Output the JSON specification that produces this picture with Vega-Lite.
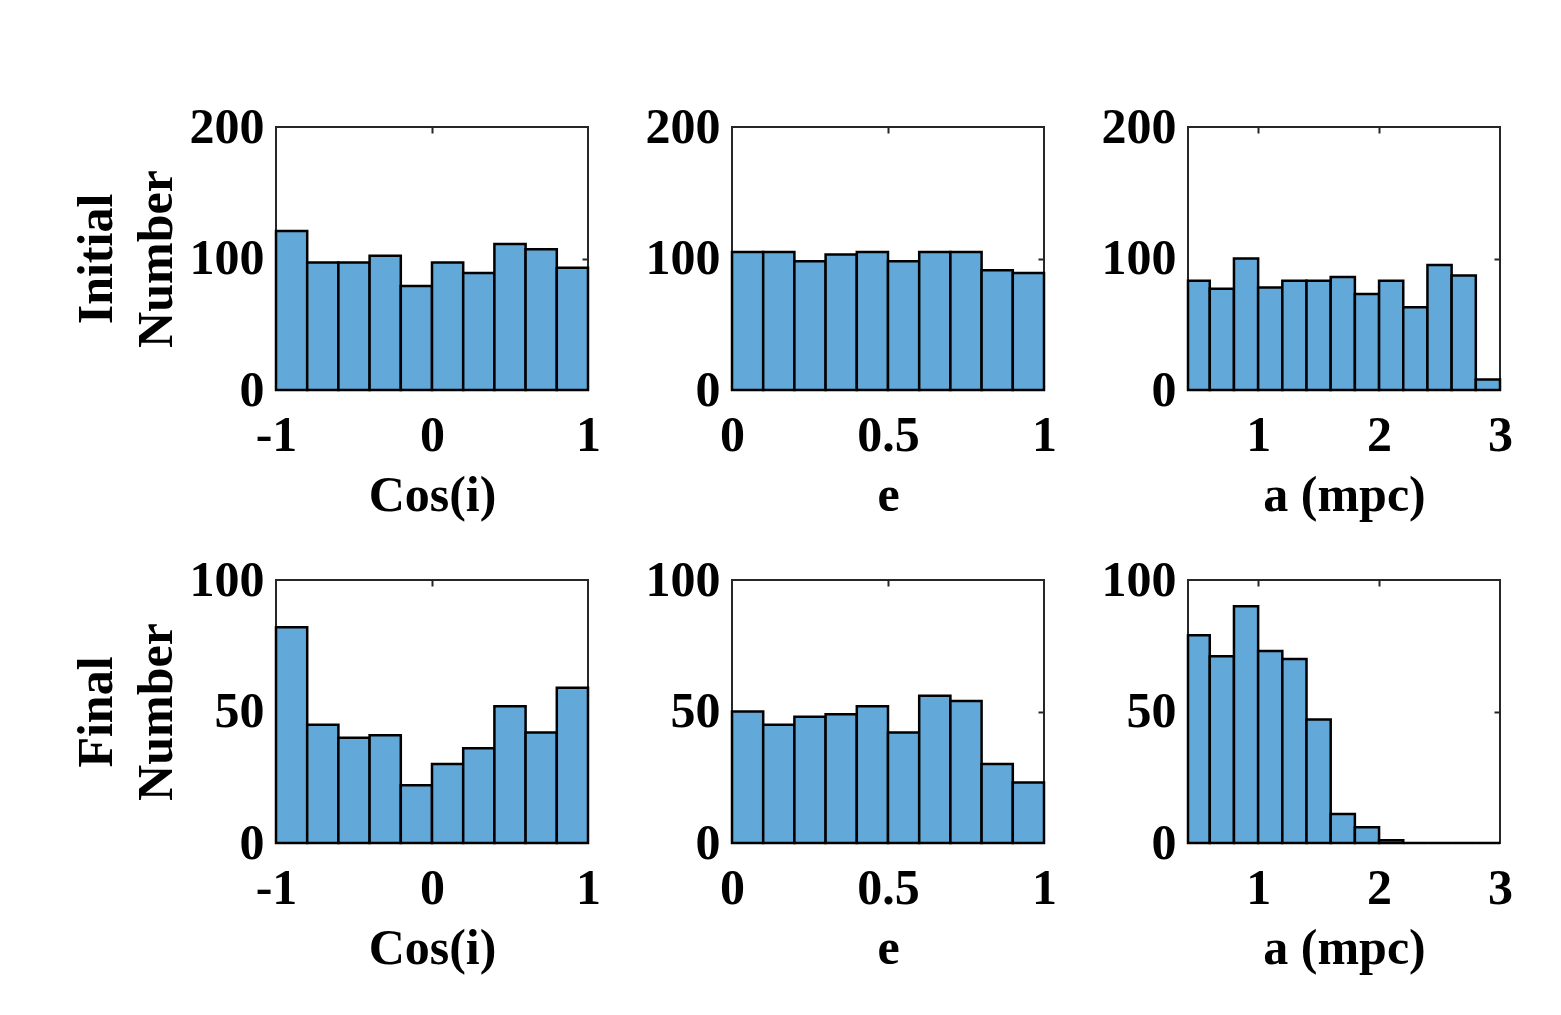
{
  "$schema": "https://vega.github.io/schema/vega-lite/v6.json",
  "background": "white",
  "padding": {"left": 70, "top": 101, "right": 5, "bottom": 5},
  "columns": 3,
  "spacing": {"row": 190, "column": 144},
  "bounds": "flush",
  "datasets": {
    "p1": [
      {"x0": -1.0, "x1": -0.8, "n": 121}, {"x0": -0.8, "x1": -0.6, "n": 97}, {"x0": -0.6, "x1": -0.4, "n": 97},
      {"x0": -0.4, "x1": -0.2, "n": 102}, {"x0": -0.2, "x1": 0.0, "n": 79}, {"x0": 0.0, "x1": 0.2, "n": 97},
      {"x0": 0.2, "x1": 0.4, "n": 89}, {"x0": 0.4, "x1": 0.6, "n": 111}, {"x0": 0.6, "x1": 0.8, "n": 107},
      {"x0": 0.8, "x1": 1.0, "n": 93}
    ],
    "p2": [
      {"x0": 0.0, "x1": 0.1, "n": 105}, {"x0": 0.1, "x1": 0.2, "n": 105}, {"x0": 0.2, "x1": 0.3, "n": 98},
      {"x0": 0.3, "x1": 0.4, "n": 103}, {"x0": 0.4, "x1": 0.5, "n": 105}, {"x0": 0.5, "x1": 0.6, "n": 98},
      {"x0": 0.6, "x1": 0.7, "n": 105}, {"x0": 0.7, "x1": 0.8, "n": 105}, {"x0": 0.8, "x1": 0.9, "n": 91},
      {"x0": 0.9, "x1": 1.0, "n": 89}
    ],
    "p3": [
      {"x0": 0.42, "x1": 0.6, "n": 83}, {"x0": 0.6, "x1": 0.8, "n": 77}, {"x0": 0.8, "x1": 1.0, "n": 100},
      {"x0": 1.0, "x1": 1.2, "n": 78}, {"x0": 1.2, "x1": 1.4, "n": 83}, {"x0": 1.4, "x1": 1.6, "n": 83},
      {"x0": 1.6, "x1": 1.8, "n": 86}, {"x0": 1.8, "x1": 2.0, "n": 73}, {"x0": 2.0, "x1": 2.2, "n": 83},
      {"x0": 2.2, "x1": 2.4, "n": 63}, {"x0": 2.4, "x1": 2.6, "n": 95}, {"x0": 2.6, "x1": 2.8, "n": 87},
      {"x0": 2.8, "x1": 3.0, "n": 8}
    ],
    "p4": [
      {"x0": -1.0, "x1": -0.8, "n": 82}, {"x0": -0.8, "x1": -0.6, "n": 45}, {"x0": -0.6, "x1": -0.4, "n": 40},
      {"x0": -0.4, "x1": -0.2, "n": 41}, {"x0": -0.2, "x1": 0.0, "n": 22}, {"x0": 0.0, "x1": 0.2, "n": 30},
      {"x0": 0.2, "x1": 0.4, "n": 36}, {"x0": 0.4, "x1": 0.6, "n": 52}, {"x0": 0.6, "x1": 0.8, "n": 42},
      {"x0": 0.8, "x1": 1.0, "n": 59}
    ],
    "p5": [
      {"x0": 0.0, "x1": 0.1, "n": 50}, {"x0": 0.1, "x1": 0.2, "n": 45}, {"x0": 0.2, "x1": 0.3, "n": 48},
      {"x0": 0.3, "x1": 0.4, "n": 49}, {"x0": 0.4, "x1": 0.5, "n": 52}, {"x0": 0.5, "x1": 0.6, "n": 42},
      {"x0": 0.6, "x1": 0.7, "n": 56}, {"x0": 0.7, "x1": 0.8, "n": 54}, {"x0": 0.8, "x1": 0.9, "n": 30},
      {"x0": 0.9, "x1": 1.0, "n": 23}
    ],
    "p6": [
      {"x0": 0.42, "x1": 0.6, "n": 79}, {"x0": 0.6, "x1": 0.8, "n": 71}, {"x0": 0.8, "x1": 1.0, "n": 90},
      {"x0": 1.0, "x1": 1.2, "n": 73}, {"x0": 1.2, "x1": 1.4, "n": 70}, {"x0": 1.4, "x1": 1.6, "n": 47},
      {"x0": 1.6, "x1": 1.8, "n": 11}, {"x0": 1.8, "x1": 2.0, "n": 6}, {"x0": 2.0, "x1": 2.2, "n": 1},
      {"x0": 2.2, "x1": 2.4, "n": 0}, {"x0": 2.4, "x1": 2.6, "n": 0}, {"x0": 2.6, "x1": 2.8, "n": 0},
      {"x0": 2.8, "x1": 3.0, "n": 0}
    ]
  },
  "concat": [
    {
      "width": 312, "height": 263, "data": {"name": "p1"},
      "resolve": {"axis": {"x": "independent", "y": "independent"}},
      "layer": [
        {"mark": {"type": "bar", "fill": "#62a8d8", "stroke": "#000000", "strokeWidth": 2.5},
         "encoding": {
           "x": {"field": "x0", "type": "quantitative", "scale": {"domain": [-1, 1], "nice": false}, "axis": {"values": [-1, 0, 1], "title": "Cos(i)", "labelExpr": "'' + datum.value"}},
           "x2": {"field": "x1"},
           "y": {"field": "n", "type": "quantitative", "scale": {"domain": [0, 200], "nice": false}, "axis": {"values": [0, 100, 200], "title": ["Initial", "Number"]}},
           "y2": {"datum": 0}}},
        {"mark": {"type": "bar", "opacity": 0},
         "encoding": {
           "x": {"field": "x0", "type": "quantitative", "axis": {"orient": "top", "values": [0], "labels": false, "title": null, "ticks": true, "tickSize": -6, "tickColor": "#262626", "tickWidth": 2}},
           "x2": {"field": "x1"},
           "y": {"field": "n", "type": "quantitative", "axis": {"orient": "right", "values": [100], "labels": false, "title": null, "ticks": true, "tickSize": -6, "tickColor": "#262626", "tickWidth": 2}},
           "y2": {"datum": 0}}}
      ]
    },
    {
      "width": 312, "height": 263, "data": {"name": "p2"},
      "resolve": {"axis": {"x": "independent", "y": "independent"}},
      "layer": [
        {"mark": {"type": "bar", "fill": "#62a8d8", "stroke": "#000000", "strokeWidth": 2.5},
         "encoding": {
           "x": {"field": "x0", "type": "quantitative", "scale": {"domain": [0, 1], "nice": false}, "axis": {"values": [0, 0.5, 1], "title": "e", "labelExpr": "'' + datum.value"}},
           "x2": {"field": "x1"},
           "y": {"field": "n", "type": "quantitative", "scale": {"domain": [0, 200], "nice": false}, "axis": {"values": [0, 100, 200], "title": null}},
           "y2": {"datum": 0}}},
        {"mark": {"type": "bar", "opacity": 0},
         "encoding": {
           "x": {"field": "x0", "type": "quantitative", "axis": {"orient": "top", "values": [0.5], "labels": false, "title": null, "ticks": true, "tickSize": -6, "tickColor": "#262626", "tickWidth": 2}},
           "x2": {"field": "x1"},
           "y": {"field": "n", "type": "quantitative", "axis": {"orient": "right", "values": [100], "labels": false, "title": null, "ticks": true, "tickSize": -6, "tickColor": "#262626", "tickWidth": 2}},
           "y2": {"datum": 0}}}
      ]
    },
    {
      "width": 312, "height": 263, "data": {"name": "p3"},
      "resolve": {"axis": {"x": "independent", "y": "independent"}},
      "layer": [
        {"mark": {"type": "bar", "fill": "#62a8d8", "stroke": "#000000", "strokeWidth": 2.5},
         "encoding": {
           "x": {"field": "x0", "type": "quantitative", "scale": {"domain": [0.42, 3], "nice": false, "zero": false}, "axis": {"values": [1, 2, 3], "title": "a (mpc)", "labelExpr": "'' + datum.value"}},
           "x2": {"field": "x1"},
           "y": {"field": "n", "type": "quantitative", "scale": {"domain": [0, 200], "nice": false}, "axis": {"values": [0, 100, 200], "title": null}},
           "y2": {"datum": 0}}},
        {"mark": {"type": "bar", "opacity": 0},
         "encoding": {
           "x": {"field": "x0", "type": "quantitative", "axis": {"orient": "top", "values": [1, 2], "labels": false, "title": null, "ticks": true, "tickSize": -6, "tickColor": "#262626", "tickWidth": 2}},
           "x2": {"field": "x1"},
           "y": {"field": "n", "type": "quantitative", "axis": {"orient": "right", "values": [100], "labels": false, "title": null, "ticks": true, "tickSize": -6, "tickColor": "#262626", "tickWidth": 2}},
           "y2": {"datum": 0}}}
      ]
    },
    {
      "width": 312, "height": 263, "data": {"name": "p4"},
      "resolve": {"axis": {"x": "independent", "y": "independent"}},
      "layer": [
        {"mark": {"type": "bar", "fill": "#62a8d8", "stroke": "#000000", "strokeWidth": 2.5},
         "encoding": {
           "x": {"field": "x0", "type": "quantitative", "scale": {"domain": [-1, 1], "nice": false}, "axis": {"values": [-1, 0, 1], "title": "Cos(i)", "labelExpr": "'' + datum.value"}},
           "x2": {"field": "x1"},
           "y": {"field": "n", "type": "quantitative", "scale": {"domain": [0, 100], "nice": false}, "axis": {"values": [0, 50, 100], "title": ["Final", "Number"]}},
           "y2": {"datum": 0}}},
        {"mark": {"type": "bar", "opacity": 0},
         "encoding": {
           "x": {"field": "x0", "type": "quantitative", "axis": {"orient": "top", "values": [0], "labels": false, "title": null, "ticks": true, "tickSize": -6, "tickColor": "#262626", "tickWidth": 2}},
           "x2": {"field": "x1"},
           "y": {"field": "n", "type": "quantitative", "axis": {"orient": "right", "values": [50], "labels": false, "title": null, "ticks": true, "tickSize": -6, "tickColor": "#262626", "tickWidth": 2}},
           "y2": {"datum": 0}}}
      ]
    },
    {
      "width": 312, "height": 263, "data": {"name": "p5"},
      "resolve": {"axis": {"x": "independent", "y": "independent"}},
      "layer": [
        {"mark": {"type": "bar", "fill": "#62a8d8", "stroke": "#000000", "strokeWidth": 2.5},
         "encoding": {
           "x": {"field": "x0", "type": "quantitative", "scale": {"domain": [0, 1], "nice": false}, "axis": {"values": [0, 0.5, 1], "title": "e", "labelExpr": "'' + datum.value"}},
           "x2": {"field": "x1"},
           "y": {"field": "n", "type": "quantitative", "scale": {"domain": [0, 100], "nice": false}, "axis": {"values": [0, 50, 100], "title": null}},
           "y2": {"datum": 0}}},
        {"mark": {"type": "bar", "opacity": 0},
         "encoding": {
           "x": {"field": "x0", "type": "quantitative", "axis": {"orient": "top", "values": [0.5], "labels": false, "title": null, "ticks": true, "tickSize": -6, "tickColor": "#262626", "tickWidth": 2}},
           "x2": {"field": "x1"},
           "y": {"field": "n", "type": "quantitative", "axis": {"orient": "right", "values": [50], "labels": false, "title": null, "ticks": true, "tickSize": -6, "tickColor": "#262626", "tickWidth": 2}},
           "y2": {"datum": 0}}}
      ]
    },
    {
      "width": 312, "height": 263, "data": {"name": "p6"},
      "resolve": {"axis": {"x": "independent", "y": "independent"}},
      "layer": [
        {"mark": {"type": "bar", "fill": "#62a8d8", "stroke": "#000000", "strokeWidth": 2.5},
         "encoding": {
           "x": {"field": "x0", "type": "quantitative", "scale": {"domain": [0.42, 3], "nice": false, "zero": false}, "axis": {"values": [1, 2, 3], "title": "a (mpc)", "labelExpr": "'' + datum.value"}},
           "x2": {"field": "x1"},
           "y": {"field": "n", "type": "quantitative", "scale": {"domain": [0, 100], "nice": false}, "axis": {"values": [0, 50, 100], "title": null}},
           "y2": {"datum": 0}}},
        {"mark": {"type": "bar", "opacity": 0},
         "encoding": {
           "x": {"field": "x0", "type": "quantitative", "axis": {"orient": "top", "values": [1, 2], "labels": false, "title": null, "ticks": true, "tickSize": -6, "tickColor": "#262626", "tickWidth": 2}},
           "x2": {"field": "x1"},
           "y": {"field": "n", "type": "quantitative", "axis": {"orient": "right", "values": [50], "labels": false, "title": null, "ticks": true, "tickSize": -6, "tickColor": "#262626", "tickWidth": 2}},
           "y2": {"datum": 0}}}
      ]
    }
  ],
  "config": {
    "font": "Liberation Serif",
    "view": {"stroke": "#262626", "strokeWidth": 2},
    "axis": {
      "domain": false, "ticks": false, "grid": false,
      "labelFont": "Liberation Serif", "labelFontWeight": "bold", "labelFontSize": 50, "labelColor": "#000000",
      "labelFlush": false, "labelOverlap": false,
      "titleFont": "Liberation Serif", "titleFontWeight": "bold", "titleFontSize": 50, "titleColor": "#000000"
    },
    "axisBottom": {"labelPadding": 20, "titlePadding": 10},
    "axisLeft": {"labelPadding": 12, "titlePadding": 8, "titleLineHeight": 60},
    "axisTop": {"labelPadding": 0, "titlePadding": 0},
    "axisRight": {"labelPadding": 0, "titlePadding": 0}
  }
}
